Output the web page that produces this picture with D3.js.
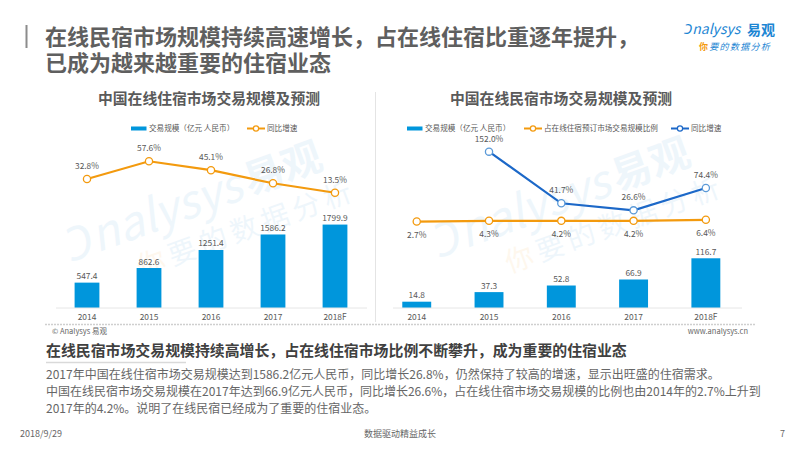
<!DOCTYPE html>
<html><head><meta charset="utf-8">
<script src="https://cdn.jsdelivr.net/npm/d3@7"></script>
<style>
html,body{margin:0;padding:0;background:#fff;}
svg text{font-family:"Noto Sans CJK SC","Noto Sans",sans-serif;}
svg text.ttl{font-family:"Liberation Sans","Noto Sans CJK SC",sans-serif;}
</style></head>
<body><svg id="c" width="800" height="450"></svg>
<script>
// ---- data ----
const years = ["2014","2015","2016","2017","2018F"];
const hotelScale = [547.4, 862.6, 1251.4, 1586.2, 1799.9];
const hotelGrowth = [32.8, 57.6, 45.1, 26.8, 13.5];
const homestayScale = [14.8, 37.3, 52.8, 66.9, 116.7];
const homestayShare = [2.7, 4.3, 4.2, 4.2, 6.4];
const homestayGrowth = [null, 152.0, 41.7, 26.6, 74.4];
const titleLines = ["在线民宿市场规模持续高速增长，占在线住宿比重逐年提升，", "已成为越来越重要的住宿业态"];
const leftTitle = "中国在线住宿市场交易规模及预测";
const rightTitle = "中国在线民宿市场交易规模及预测";
const legendBar = "交易规模（亿元 人民币）";
const legendGrowth = "同比增速";
const legendShare = "占在线住宿预订市场交易规模比例";
const heading = "在线民宿市场交易规模持续高增长，占在线住宿市场比例不断攀升，成为重要的住宿业态";
const bodyLines = [
  "2017年中国在线住宿市场交易规模达到1586.2亿元人民币，同比增长26.8%，仍然保持了较高的增速，显示出旺盛的住宿需求。",
  "中国在线民宿市场交易规模在2017年达到66.9亿元人民币，同比增长26.6%，占在线住宿市场交易规模的比例也由2014年的2.7%上升到",
  "2017年的4.2%。说明了在线民宿已经成为了重要的住宿业态。"
];

const BAR = "#0096dc", ORANGE = "#f39a0e", DBLUE = "#1c68c8", LBL = "#595959";
const svg = d3.select("#c");

// ---- watermark ----
function watermark(x, y) {
  const g = svg.append("g").attr("transform", `translate(${x},${y}) rotate(-20)`).attr("opacity", 0.07);
  g.append("text").attr("x", 0).attr("y", 0).attr("font-size", 46).attr("font-style", "italic")
    .attr("font-family", "Lato, sans-serif").attr("fill", "#1d8ad6").text("Ɔnalysys");
  g.append("text").attr("x", 190).attr("y", -2).attr("font-size", 40).attr("font-weight", "bold")
    .attr("fill", "#1d8ad6").text("易观");
  const t = g.append("text").attr("x", 60).attr("y", 38).attr("font-size", 28).attr("letter-spacing", 5);
  t.append("tspan").attr("fill", "#f39a0e").text("你");
  t.append("tspan").attr("fill", "#1d8ad6").text("要的数据分析");
}
watermark(72, 262);
watermark(440, 258);

// ---- header ----
svg.append("rect").attr("x", 25.5).attr("y", 25).attr("width", 2).attr("height", 23).attr("fill", "#8c8c8c");
svg.selectAll(".ttl").data(titleLines).join("text").attr("class", "ttl")
  .attr("x", 45).attr("y", (d, i) => 44.5 + i * 26)
  .attr("font-size", 22).attr("font-weight", "bold").attr("fill", "#5f5f5f").text(d => d);

// logo
svg.append("text").attr("x", 684).attr("y", 34).attr("font-size", 14).attr("font-style", "italic")
  .attr("font-family", "Lato, sans-serif").attr("fill", "#1d86d3").text("Ɔnalysys");
svg.append("text").attr("x", 747).attr("y", 35).attr("font-size", 14).attr("font-weight", "bold")
  .attr("fill", "#1d86d3").text("易观");
const lg2 = svg.append("text").attr("x", 699).attr("y", 50).attr("font-size", 9).attr("letter-spacing", 1.3);
lg2.append("tspan").attr("fill", "#f39a0e").attr("font-weight", "bold").text("你");
lg2.append("tspan").attr("fill", "#1d86d3").attr("font-style", "italic").text("要的数据分析");

// ---- dividers ----
svg.append("line").attr("x1", 375.5).attr("x2", 375.5).attr("y1", 92).attr("y2", 322)
  .attr("stroke", "#e4e4e4").attr("stroke-width", 1);
svg.append("line").attr("x1", 45).attr("x2", 755).attr("y1", 324.5).attr("y2", 324.5)
  .attr("stroke", "#cfcfcf").attr("stroke-width", 1.5).attr("stroke-dasharray", "2,1");
svg.append("text").attr("x", 52).attr("y", 334).attr("font-size", 7.5).attr("fill", "#666").text("© Analysys 易观");
svg.append("text").attr("x", 748).attr("y", 334).attr("text-anchor", "end").attr("font-size", 7.5)
  .attr("fill", "#666").text("www.analysys.cn");

// ---- helper for charts ----
function chartTitle(t, cx) {
  svg.append("text").attr("x", cx).attr("y", 104).attr("text-anchor", "middle")
    .attr("font-size", 14.8).attr("font-weight", "bold").attr("fill", "#5a5a5a").text(t);
}
function legendRect(x, label) {
  svg.append("rect").attr("x", x).attr("y", 126.5).attr("width", 15.5).attr("height", 4).attr("fill", BAR);
  svg.append("text").attr("x", x + 18).attr("y", 131).attr("font-size", 7.6).attr("fill", LBL).text(label);
}
function legendLine(x, color, label) {
  svg.append("line").attr("x1", x).attr("x2", x + 18).attr("y1", 128.5).attr("y2", 128.5)
    .attr("stroke", color).attr("stroke-width", 2);
  svg.append("circle").attr("cx", x + 9).attr("cy", 128.5).attr("r", 2.6).attr("fill", "#fff")
    .attr("stroke", color).attr("stroke-width", 1.2);
  svg.append("text").attr("x", x + 20).attr("y", 131).attr("font-size", 7.6).attr("fill", LBL).text(label);
}
function bars(x, y, vals, fmt) {
  svg.append("g").selectAll("rect").data(vals).join("rect")
    .attr("x", (d, i) => x(years[i])).attr("width", x.bandwidth())
    .attr("y", d => y(d)).attr("height", d => y(0) - y(d)).attr("fill", BAR);
  svg.append("g").selectAll("text").data(vals).join("text")
    .attr("x", (d, i) => x(years[i]) + x.bandwidth() / 2).attr("y", d => y(d) - 3.5)
    .attr("text-anchor", "middle").attr("font-size", 8.4).attr("fill", LBL).text(fmt);
}
function xAxis(x, x1, x2) {
  const g = svg.append("g").attr("transform", "translate(0,308)")
    .call(d3.axisBottom(x).tickSize(0).tickPadding(6));
  g.select(".domain").remove();
  g.append("line").attr("x1", x1).attr("x2", x2).attr("y1", 0).attr("y2", 0).attr("stroke", "#e6e6e6");
  g.selectAll(".tick text").attr("font-size", 8.4).attr("fill", LBL)
    .attr("font-family", "'Noto Sans',sans-serif");
}
function lineSeries(x, y, vals, color, labelDy, circleStroke) {
  const pts = vals.map((v, i) => ({v, k: years[i]})).filter(d => d.v !== null);
  const cx = d => x(d.k) + x.bandwidth() / 2;
  svg.append("path").datum(pts).attr("fill", "none").attr("stroke", color).attr("stroke-width", 2.2)
    .attr("d", d3.line().x(cx).y(d => y(d.v)));
  svg.append("g").selectAll("circle").data(pts).join("circle")
    .attr("cx", cx).attr("cy", d => y(d.v)).attr("r", 3.6)
    .attr("fill", "#fff").attr("stroke", circleStroke).attr("stroke-width", 1.3);
  svg.append("g").selectAll("text").data(pts).join("text")
    .attr("x", cx).attr("y", d => y(d.v) + labelDy).attr("text-anchor", "middle")
    .attr("font-size", 8.4).attr("fill", LBL).text(d => d.v.toFixed(1) + "%");
}

// ---- left chart ----
chartTitle(leftTitle, 209);
legendRect(131, legendBar);
legendLine(247, ORANGE, legendGrowth);
const xL = d3.scaleBand().domain(years).range([56, 366]).paddingInner(0.6).paddingOuter(0.3);
const yL = d3.scaleLinear().domain([0, 2000]).range([308, 215.3]);
const yLg = d3.scaleLinear().domain([0, 100]).range([202.4, 131]);
bars(xL, yL, hotelScale, d => d.toFixed(1));
xAxis(xL, 56, 367);
lineSeries(xL, yLg, hotelGrowth, ORANGE, -10, ORANGE);

// ---- right chart ----
chartTitle(rightTitle, 561);
legendRect(407, legendBar);
legendLine(524, ORANGE, legendShare);
legendLine(671, DBLUE, legendGrowth);
const xR = d3.scaleBand().domain(years).range([380.6, 742]).paddingInner(0.6).paddingOuter(0.3);
const yR = d3.scaleLinear().domain([0, 150]).range([308, 244.1]);
const yRg = d3.scaleLinear().domain([0, 200]).range([222.8, 129.2]);
bars(xR, yR, homestayScale, d => d.toFixed(1));
xAxis(xR, 393, 742);
lineSeries(xR, yRg, homestayShare, ORANGE, 16, ORANGE);
lineSeries(xR, yRg, homestayGrowth, DBLUE, -10, "#5b9ad8");

// ---- bottom text ----
svg.append("text").attr("x", 46).attr("y", 356).attr("font-size", 14.9).attr("font-weight", "bold")
  .attr("fill", "#404040").text(heading);
svg.append("line").attr("x1", 46).attr("x2", 186).attr("y1", 362.5).attr("y2", 362.5)
  .attr("stroke", "#d9d9d9").attr("stroke-width", 1.5);
svg.selectAll(".body").data(bodyLines).join("text").attr("class", "body")
  .attr("x", 46).attr("y", (d, i) => 378.5 + i * 17.2).attr("font-size", 12).attr("fill", "#666").text(d => d);

// ---- footer ----
svg.append("text").attr("x", 20).attr("y", 436.5).attr("font-size", 9).attr("fill", "#666").text("2018/9/29");
svg.append("text").attr("x", 400).attr("y", 436.5).attr("text-anchor", "middle").attr("font-size", 9)
  .attr("fill", "#666").text("数据驱动精益成长");
svg.append("text").attr("x", 785).attr("y", 436.5).attr("text-anchor", "end").attr("font-size", 9)
  .attr("fill", "#666").text("7");
</script></body></html>
